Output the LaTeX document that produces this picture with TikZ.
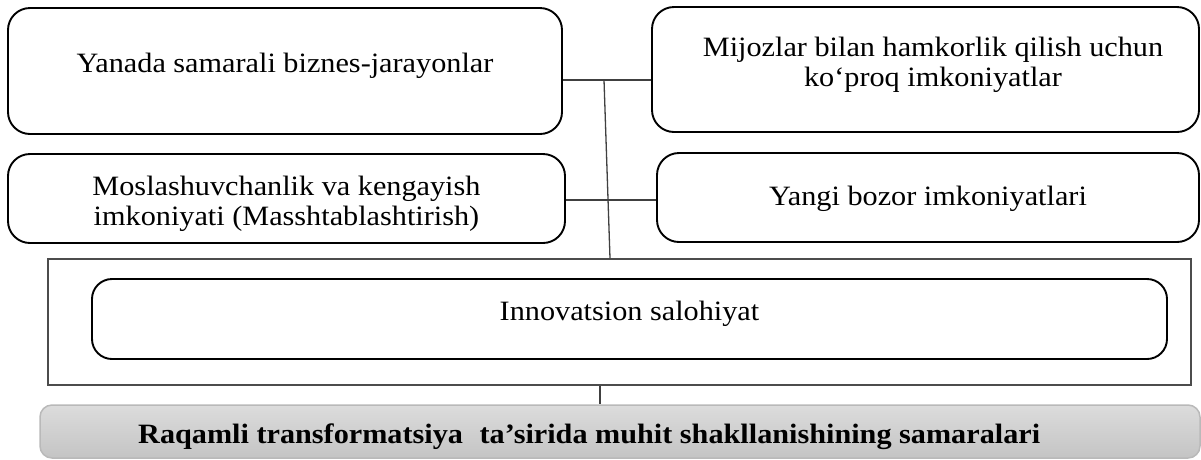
\documentclass[tikz,border=0pt]{standalone}
\usepackage{fontspec}
\setmainfont{Liberation Serif}
\usepackage{graphicx}
\definecolor{gtop}{RGB}{220,220,220}
\definecolor{gbot}{RGB}{196,196,196}
\definecolor{gedge}{RGB}{185,185,185}
\newcommand{\sxw}[1]{\scalebox{1.08}[1]{#1}}
\begin{document}
\begin{tikzpicture}[x=1pt,y=-1pt,
  box/.style={draw=black, line width=1.9pt, rounded corners=22pt, inner sep=0pt},
  txt/.style={font=\fontsize{28}{30}\selectfont, inner sep=0pt},
  conn/.style={draw=black!75, line width=1.3pt},
  frame/.style={draw=black!70, line width=1.2pt, inner sep=0pt}]
\useasboundingbox (0,0) rectangle (1201,459);
% boxes
\node[box, minimum width=554pt, minimum height=126pt] (A) at (285,71) {};
\node[box, minimum width=557pt, minimum height=89pt] (B) at (286.5,198.5) {};
\node[box, minimum width=547pt, minimum height=125pt] (C) at (925.5,69.5) {};
\node[box, minimum width=542pt, minimum height=89pt] (D) at (928,197.5) {};
\node[frame, minimum width=1143pt, minimum height=126pt] (O) at (619.5,322) {};
\node[box, rounded corners=20pt, minimum width=1075pt, minimum height=80pt] (I) at (629.5,319) {};
\node[draw=gedge, line width=1.5pt, rounded corners=12pt, top color=gtop, bottom color=gbot,
      minimum width=1160pt, minimum height=53pt, inner sep=0pt] (G) at (620,431.5) {};
% texts
\node[txt, anchor=base] (At) at (285,72) {\sxw{Yanada samarali biznes-jarayonlar}};
\node[txt] (Bt) at (286.5,204) {\sxw{\begin{tabular}{@{}c@{}}Moslashuvchanlik va kengayish\\imkoniyati (Masshtablashtirish)\end{tabular}}};
\node[txt] (Ct) at (933,65) {\sxw{\begin{tabular}{@{}c@{}}Mijozlar bilan hamkorlik qilish uchun\\ko‘proq imkoniyatlar\end{tabular}}};
\node[txt, anchor=base] (Dt) at (928,205) {\sxw{Yangi bozor imkoniyatlari}};
\node[txt, anchor=base] (It) at (629.5,320) {\sxw{Innovatsion salohiyat}};
\node[txt, anchor=base west] (Gt) at (138,443) {\resizebox{902pt}{\height}{\bfseries Raqamli transformatsiya\hspace{0.3em} ta’sirida muhit shakllanishining samaralari}};
% connectors
\coordinate (j1) at (604,80);
\coordinate (j2) at (608,200);
\coordinate (p3) at (610,0);
\coordinate (p4) at (600,0);
\draw[conn] (A.east |- j1) -- (C.west |- j1);
\draw[conn] (B.east |- j2) -- (D.west |- j2);
\draw[conn] (j1) -- (O.north -| p3);
\draw[conn] (O.south -| p4) -- (G.north -| p4);
\end{tikzpicture}
\end{document}
